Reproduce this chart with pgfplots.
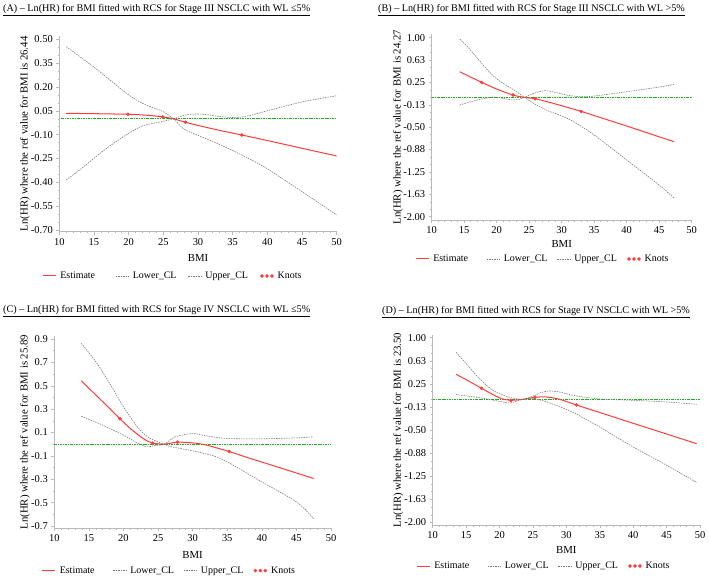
\documentclass[border=0pt]{standalone}
\usepackage{fontspec}
\setmainfont{Liberation Serif}
\usepackage{pgfplots}
\pgfplotsset{compat=1.18}
\definecolor{estred}{RGB}{255,60,60}
\definecolor{clgray}{RGB}{115,115,115}
\definecolor{refgreen}{RGB}{30,170,30}
\definecolor{axgray}{RGB}{185,185,185}

\pgfplotsset{
  est/.style={color=estred, line width=1bp, smooth,
    legend image code/.code={\draw[color=estred, line width=1bp] (0bp,0bp) -- (13bp,0bp); \path (17bp,0bp);}},
  cl/.style={color=clgray, line width=0.55bp, dash pattern=on 1.5bp off 1bp, smooth},
  refl/.style={color=refgreen, line width=0.9bp, dash pattern=on 2.5bp off 1bp on 0.8bp off 1bp},
  knot/.style={color=estred, only marks, mark=*, mark size=1.6bp,
    legend image code/.code={\draw[#1] plot coordinates {(1.5bp,0bp) (6.5bp,0bp) (11.5bp,0bp)}; \path (17bp,0bp);}},
  rcs/.style={
    scale only axis,
    axis x line*=bottom, axis y line*=left,
    axis line style={draw=axgray, line width=0.6bp},
    xmin=10, xmax=50, xtick={10,15,...,50}, minor x tick num=4,
    tick align=outside, major tick length=3bp, minor tick length=1.6bp,
    every tick/.style={draw=axgray, line width=0.5bp},
    tick label style={font=\fontsize{10.5}{12}\selectfont},
    /pgf/number format/assume math mode=true,
    label style={font=\fontsize{10.8}{12}\selectfont},
    xlabel={BMI},
    legend columns=4,
    legend cell align=left,
    legend style={draw=none, fill=none, inner sep=0pt, anchor=west,
      font=\fontsize{10}{11}\selectfont,
      /tikz/every even column/.style={column sep=0pt},
      /tikz/every odd column/.style={column sep=0pt}},
  },
  legend image code/.code={\draw[#1] (0bp,0bp) -- (13bp,0bp); \path (17bp,0bp);},
}

\begin{document}
\begin{tikzpicture}
\path[use as bounding box] (0bp,0bp) rectangle (709bp,580bp);

\node[anchor=west, inner sep=0pt, font=\fontsize{10.2}{12}\selectfont] at (3bp,570bp) {\underline{(A) – Ln(HR) for BMI fitted with RCS for Stage III NSCLC with WL ≤5\%}};
\node[anchor=west, inner sep=0pt, font=\fontsize{10.2}{12}\selectfont] at (378bp,570bp) {\underline{(B) – Ln(HR) for BMI fitted with RCS for Stage III NSCLC with WL >5\%}};
\node[anchor=west, inner sep=0pt, font=\fontsize{10.2}{12}\selectfont] at (3bp,269.3bp) {\underline{(C) – Ln(HR) for BMI fitted with RCS for Stage IV NSCLC with WL ≤5\%}};
\node[anchor=west, inner sep=0pt, font=\fontsize{10.2}{12}\selectfont] at (382bp,268.3bp) {\underline{(D) – Ln(HR) for BMI fitted with RCS for Stage IV NSCLC with WL >5\%}};

% ---------------- Panel A ----------------
\begin{axis}[rcs, at={(59.3bp,348.3bp)}, anchor=south west,
  width=277.4bp, height=195.7bp, ymin=-0.711, ymax=0.521,
  ytick={-0.70,-0.55,-0.40,-0.25,-0.10,0.05,0.20,0.35,0.50}, minor y tick num=2,
  yticklabel style={/pgf/number format/.cd, fixed, fixed zerofill, precision=2},
  ylabel={Ln(HR) where the ref value for BMI is 26.44},
  ylabel style={at={(axis description cs:-0.124,0.5)}, anchor=center, rotate=0},
  xlabel style={at={(axis description cs:0.5,0)}, anchor=center, yshift=-26bp},
  legend style={at={(axis description cs:-0.062,-0.226)}, nodes={text width=55bp, inner sep=0pt}}]
\addplot[refl, forget plot] coordinates {(10.3,0) (50,0)};
\addplot[est] coordinates {(11,0.034) (15,0.032) (20,0.028) (23,0.021) (25,0.011) (26.44,0) (28.2,-0.022) (30,-0.042) (33,-0.072) (36.3,-0.102) (40,-0.137) (45,-0.186) (50,-0.234)};
\addlegendentry{Estimate}
\addplot[cl] coordinates {(11,-0.385) (13,-0.32) (15,-0.249) (17,-0.18) (20,-0.092) (22,-0.045) (24,-0.025) (25,-0.016) (26.44,0) (28,0.022) (29.5,0.03) (31,0.027) (33,0.015) (35,0.008) (37,0.016) (40,0.05) (45,0.106) (50,0.145)};
\addlegendentry{Lower\_CL}
\addplot[cl] coordinates {(11,0.454) (13,0.39) (15,0.325) (17,0.255) (20,0.150) (22,0.097) (24,0.062) (25,0.045) (26.44,0) (28,-0.065) (30,-0.105) (32,-0.14) (35,-0.20) (37.5,-0.255) (40,-0.315) (45,-0.459) (50,-0.605)};
\addlegendentry{Upper\_CL}
\addplot[knot] coordinates {(19.9,0.028) (24.9,0.012) (28.2,-0.022) (36.3,-0.102)};
\addlegendentry{Knots}
\end{axis}

% ---------------- Panel B ----------------
\begin{axis}[rcs, at={(431.7bp,360bp)}, anchor=south west,
  width=260bp, height=185.7bp, ymin=-2.055, ymax=1.057,
  ytick={-2,-1.625,-1.25,-0.875,-0.5,-0.125,0.25,0.625,1},
  yticklabels={-2.00,-1.63,-1.25,-0.88,-0.50,-0.13,0.25,0.63,1.00}, minor y tick num=2,
  ylabel={Ln(HR) where the ref value for BMI is 24.27},
  ylabel style={at={(axis description cs:-0.13,0.5)}, anchor=center, rotate=0},
  xlabel style={at={(axis description cs:0.5,0)}, anchor=center, yshift=-24.3bp},
  legend style={at={(axis description cs:-0.064,-0.21)}, nodes={text width=53bp, inner sep=0pt}}]
\addplot[refl, forget plot] coordinates {(10,0) (50,0)};
\addplot[est] coordinates {(14.3,0.43) (16,0.34) (17.7,0.251) (20,0.14) (22.5,0.039) (24.27,0) (25.9,-0.022) (28,-0.08) (30,-0.14) (33,-0.235) (36,-0.34) (40,-0.48) (44,-0.625) (47.3,-0.743)};
\addlegendentry{Estimate}
\addplot[cl] coordinates {(14.3,-0.128) (17,-0.045) (19.5,0.006) (21,-0.017) (22.5,-0.045) (23.5,-0.03) (24.27,0) (26,0.078) (27.5,0.112) (29,0.084) (31,0.034) (33,0.011) (35,0.022) (40,0.095) (45,0.173) (47.3,0.218)};
\addlegendentry{Lower\_CL}
\addplot[cl] coordinates {(14.3,0.978) (15.5,0.85) (17,0.66) (18.5,0.47) (20,0.31) (21.5,0.20) (22.5,0.134) (24.27,0) (26,-0.12) (28,-0.23) (30,-0.31) (32,-0.42) (35,-0.63) (40,-1.05) (45,-1.47) (47.3,-1.69)};
\addlegendentry{Upper\_CL}
\addplot[knot] coordinates {(17.7,0.251) (22.5,0.039) (25.9,-0.022) (33,-0.235)};
\addlegendentry{Knots}
\end{axis}

% ---------------- Panel C ----------------
\begin{axis}[rcs, at={(54.3bp,51.7bp)}, anchor=south west,
  width=276.7bp, height=192.3bp, ymin=-0.72, ymax=0.926,
  ytick={-0.7,-0.5,-0.3,-0.1,0.1,0.3,0.5,0.7,0.9}, minor y tick num=1,
  yticklabel style={/pgf/number format/.cd, fixed, fixed zerofill, precision=1},
  ylabel={Ln(HR) where the ref value for BMI is 25.89},
  ylabel style={at={(axis description cs:-0.106,0.5)}, anchor=center, rotate=0},
  xlabel style={at={(axis description cs:0.5,0)}, anchor=center, yshift=-26.7bp},
  legend style={at={(axis description cs:-0.046,-0.22)}, nodes={text width=53bp, inner sep=0pt}}]
\addplot[refl, forget plot] coordinates {(10,0) (50,0)};
\addplot[est] coordinates {(13.9,0.543) (15.5,0.45) (17.5,0.335) (19.5,0.217) (21,0.134) (22.5,0.063) (23.5,0.025) (24.2,0.009) (25.89,0) (27.8,0.017) (30,0.011) (32,-0.008) (35.3,-0.063) (38,-0.116) (42,-0.19) (47.5,-0.294)};
\addlegendentry{Estimate}
\addplot[cl] coordinates {(13.9,0.24) (17,0.163) (20,0.077) (22,0.011) (23.5,-0.023) (24.5,-0.011) (25.89,0) (27.5,0.063) (30,0.091) (32,0.071) (35,0.049) (40,0.046) (45,0.054) (47.5,0.063)};
\addlegendentry{Lower\_CL}
\addplot[cl] coordinates {(13.9,0.863) (16,0.706) (18,0.52) (20,0.32) (22,0.149) (23.5,0.063) (25,0.02) (25.89,0) (27,-0.023) (30,-0.057) (33,-0.1) (35,-0.151) (40,-0.323) (45,-0.494) (47.5,-0.637)};
\addlegendentry{Upper\_CL}
\addplot[knot] coordinates {(19.5,0.217) (24.2,0.009) (27.8,0.017) (35.3,-0.063)};
\addlegendentry{Knots}
\end{axis}

% ---------------- Panel D ----------------
\begin{axis}[rcs, at={(432.7bp,55bp)}, anchor=south west,
  width=267.3bp, height=190bp, ymin=-2.04, ymax=1.044,
  ytick={-2,-1.625,-1.25,-0.875,-0.5,-0.125,0.25,0.625,1},
  yticklabels={-2.00,-1.63,-1.25,-0.88,-0.50,-0.13,0.25,0.63,1.00}, minor y tick num=2,
  ylabel={Ln(HR) where the ref value for BMI is 23.50},
  ylabel style={at={(axis description cs:-0.129,0.5)}, anchor=center, rotate=0},
  xlabel style={at={(axis description cs:0.5,0)}, anchor=center, yshift=-25bp},
  legend style={at={(axis description cs:-0.062,-0.216)}, nodes={text width=53bp, inner sep=0pt}}]
\addplot[refl, forget plot] coordinates {(10,0) (50,0)};
\addplot[est] coordinates {(13.5,0.406) (15.5,0.29) (17.3,0.179) (19.5,0.049) (20.5,0.005) (21.7,-0.016) (23.5,0) (25.3,0.032) (27,0.038) (29,0.0) (31.5,-0.092) (35,-0.214) (40,-0.389) (45,-0.563) (49.5,-0.72)};
\addlegendentry{Estimate}
\addplot[cl] coordinates {(13.5,0.076) (17,0.027) (20,-0.032) (21.5,-0.06) (22.5,-0.032) (23.5,0) (25,0.01) (26,-0.01) (27,-0.04) (29,-0.12) (31,-0.21) (33,-0.33) (35,-0.45) (40,-0.774) (45,-1.07) (49.5,-1.35)};
\addlegendentry{Lower\_CL}
\addplot[cl] coordinates {(13.5,0.763) (15,0.58) (17,0.336) (19,0.146) (21,0.049) (22.5,0.011) (23.5,0) (25,0.049) (26,0.10) (27.3,0.135) (29,0.119) (31,0.065) (35,0.005) (40,-0.016) (45,-0.043) (49.5,-0.081)};
\addlegendentry{Upper\_CL}
\addplot[knot] coordinates {(17.3,0.179) (21.7,-0.016) (25.3,0.032) (31.5,-0.092)};
\addlegendentry{Knots}
\end{axis}
\end{tikzpicture}
\end{document}
